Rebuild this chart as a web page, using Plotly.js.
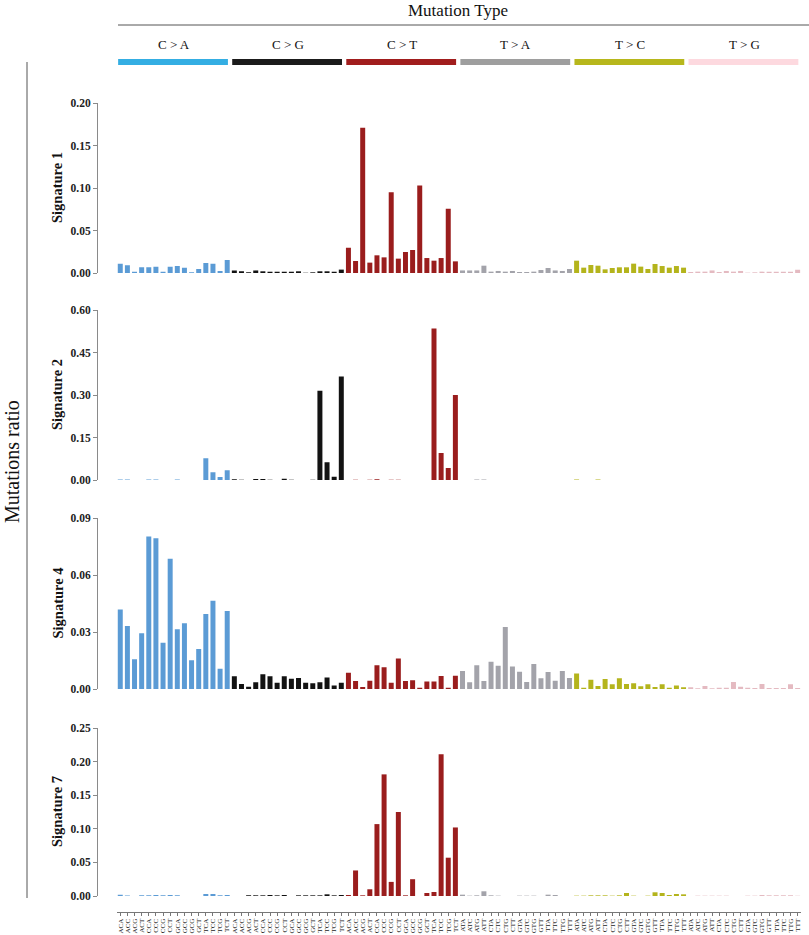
<!DOCTYPE html>
<html>
<head>
<meta charset="utf-8">
<script src="https://cdn.plot.ly/plotly-3.0.1.min.js"></script>
<style>html,body{margin:0;padding:0;background:#fff;}#chart{width:809px;height:935px;}</style>
</head>
<body>
<div id="chart"></div>
<script>
// ---- data ----
var mutationTypes = ['C>A', 'C>G', 'C>T', 'T>A', 'T>C', 'T>G'];
var typeLabels = ['C > A', 'C > G', 'C > T', 'T > A', 'T > C', 'T > G'];
var cContexts = ['ACA','ACC','ACG','ACT','CCA','CCC','CCG','CCT','GCA','GCC','GCG','GCT','TCA','TCC','TCG','TCT'];
var tContexts = ['ATA','ATC','ATG','ATT','CTA','CTC','CTG','CTT','GTA','GTC','GTG','GTT','TTA','TTC','TTG','TTT'];
var signatureNames = ['Signature 1', 'Signature 2', 'Signature 4', 'Signature 7'];
var signatureMax = [0.20, 0.60, 0.09, 0.25];
var signatureTicks = [
  [0, 0.05, 0.10, 0.15, 0.20],
  [0, 0.15, 0.30, 0.45, 0.60],
  [0, 0.03, 0.06, 0.09],
  [0, 0.05, 0.10, 0.15, 0.20, 0.25]
];

var sig1 = [
  0.011, 0.009, 0.0016, 0.0067, 0.0067, 0.0075, 0.0016, 0.0075, 0.0082, 0.0063, 0.0008, 0.0047, 0.0118, 0.011, 0.0024, 0.0153,
  0.003, 0.002, 0.001, 0.003, 0.002, 0.0015, 0.0015, 0.0015, 0.0015, 0.002, 0.0003, 0.0008, 0.002, 0.002, 0.0015, 0.004,
  0.0298, 0.0141, 0.171, 0.0122, 0.0208, 0.0184, 0.095, 0.0169, 0.0247, 0.027, 0.103, 0.0176, 0.0145, 0.0176, 0.0755, 0.0137,
  0.003, 0.003, 0.003, 0.0086, 0.0016, 0.0024, 0.0016, 0.0024, 0.0012, 0.0012, 0.0016, 0.0035, 0.0059, 0.003, 0.0024, 0.0047,
  0.0145, 0.0063, 0.0094, 0.0086, 0.0043, 0.0059, 0.0067, 0.0067, 0.011, 0.0075, 0.0047, 0.0106, 0.0082, 0.0063, 0.0082, 0.0063,
  0.0012, 0.0016, 0.0016, 0.003, 0.0012, 0.0024, 0.0016, 0.0024, 0.0004, 0.0008, 0.0016, 0.0016, 0.0016, 0.0016, 0.0016, 0.0039
];
var sig2 = [
  0.002, 0.002, 0, 0, 0.002, 0.002, 0, 0, 0.002, 0, 0, 0, 0.0765, 0.027, 0.0106, 0.034,
  0.0024, 0.0012, 0, 0.0035, 0.0035, 0.0012, 0, 0.0047, 0.0012, 0, 0, 0.0012, 0.315, 0.0623, 0.0118, 0.365,
  0, 0.0012, 0, 0.0012, 0.0024, 0, 0.0012, 0.0012, 0, 0, 0, 0, 0.535, 0.095, 0.042, 0.30,
  0, 0, 0.0015, 0.0015, 0, 0, 0, 0, 0, 0, 0, 0, 0, 0, 0, 0,
  0.002, 0, 0, 0.002, 0, 0, 0, 0, 0, 0, 0, 0, 0, 0, 0, 0,
  0, 0, 0, 0, 0, 0, 0, 0, 0, 0, 0, 0, 0, 0, 0, 0
];
var sig4 = [
  0.0419, 0.0332, 0.0156, 0.0293, 0.0802, 0.0793, 0.0244, 0.0686, 0.0314, 0.0346, 0.0151, 0.0210, 0.0395, 0.0465, 0.0107, 0.0410,
  0.0067, 0.0026, 0.0012, 0.0035, 0.0077, 0.0067, 0.0033, 0.0067, 0.0054, 0.0058, 0.0033, 0.0030, 0.0035, 0.0060, 0.0019, 0.0033,
  0.0086, 0.0042, 0.0011, 0.0044, 0.0125, 0.0114, 0.0033, 0.0160, 0.0042, 0.0046, 0.0007, 0.0039, 0.0039, 0.0068, 0.0007, 0.0070,
  0.0095, 0.0035, 0.0125, 0.0042, 0.0144, 0.0123, 0.0326, 0.0119, 0.0091, 0.0037, 0.0132, 0.0056, 0.0089, 0.0044, 0.0095, 0.0058,
  0.0081, 0.0007, 0.0049, 0.0016, 0.0053, 0.0025, 0.0056, 0.0026, 0.0030, 0.0014, 0.0025, 0.0011, 0.0025, 0.0007, 0.0018, 0.0009,
  0.0009, 0.0004, 0.0016, 0.0004, 0.0007, 0.0007, 0.0037, 0.0012, 0.0007, 0.0005, 0.0026, 0.0005, 0.0005, 0.0005, 0.0025, 0.0005
];
var sig7 = [
  0.002, 0.0008, 0, 0.001, 0.001, 0.0015, 0.001, 0.0015, 0.001, 0, 0, 0, 0.003, 0.003, 0.001, 0.0015,
  0, 0, 0.001, 0.001, 0.001, 0.0015, 0.001, 0.0015, 0, 0.001, 0.001, 0.001, 0.001, 0.0025, 0.001, 0.0015,
  0.0015, 0.038, 0.001, 0.010, 0.107, 0.181, 0.021, 0.125, 0.001, 0.025, 0, 0.0045, 0.006, 0.211, 0.057, 0.102,
  0.002, 0.0005, 0.001, 0.007, 0.001, 0.0005, 0, 0, 0.0005, 0.0005, 0.0005, 0, 0.002, 0.0015, 0, 0,
  0.0005, 0.0005, 0.001, 0.001, 0.001, 0.0005, 0.001, 0.0045, 0.0005, 0, 0.0005, 0.0055, 0.0045, 0.0015, 0.003, 0.0025,
  0, 0.0005, 0.0005, 0.0005, 0.0005, 0.0005, 0, 0, 0.0005, 0.0005, 0.0015, 0.001, 0.001, 0.001, 0.001, 0.0005
];
var signatureValues = [sig1, sig2, sig4, sig7];

// ---- styles ----
var barColors = ['#5b9bd5', '#121212', '#9a1d1d', '#a3a3aa', '#b4b41c', '#e4bac1'];
var headerColors = ['#34aee3', '#1b1b1b', '#a11d1d', '#9e9e9e', '#b7b71c', '#fdd9df'];
var W = 809, H = 935;
function py(p) { return 1 - p / H; }
function px(p) { return p / W; }
var panelPix = [[103, 273], [310, 480], [518, 689], [728, 896]];
var serif = 'Liberation Serif, Times New Roman, serif';

// x labels
var xLabels = [];
for (var m = 0; m < 6; m++) {
  var ctx = m < 3 ? cContexts : tContexts;
  for (var c = 0; c < 16; c++) xLabels.push(ctx[c]);
}
var xIdx = xLabels.map(function (_, i) { return i; });

var traces = [];
var layout = {
  width: W, height: H,
  margin: {l: 0, r: 0, t: 0, b: 0},
  paper_bgcolor: '#ffffff', plot_bgcolor: '#ffffff',
  showlegend: false,
  bargap: 0.3,
  font: {family: serif, color: '#222'},
  annotations: [], shapes: []
};

for (var s = 0; s < 4; s++) {
  var vals = signatureValues[s];
  var xa = 'x' + (s === 0 ? '' : s + 1);
  var ya = 'y' + (s === 0 ? '' : s + 1);
  for (var m = 0; m < 6; m++) {
    traces.push({
      type: 'bar',
      x: xIdx.slice(m * 16, m * 16 + 16),
      y: vals.slice(m * 16, m * 16 + 16),
      xaxis: xa, yaxis: ya,
      marker: {color: barColors[m], line: {width: 0}},
      hoverinfo: 'skip'
    });
  }
  var isLast = s === 3;
  var xaxisDef = {
    domain: [px(116.7), px(801.2)],
    range: [-0.5, 95.5],
    showgrid: false, zeroline: false, fixedrange: true,
    anchor: isLast ? 'free' : ya,
    showline: isLast, linecolor: '#777', linewidth: 1,
    ticks: isLast ? 'outside' : '', ticklen: 3, tickcolor: '#777',
    showticklabels: isLast,
    tickmode: 'array', tickvals: xIdx, ticktext: xLabels,
    tickangle: -90,
    tickfont: {family: serif, size: 7, color: '#222'}
  };
  if (isLast) xaxisDef.position = py(912);
  var yaxisDef = {
    domain: [py(panelPix[s][1]), py(panelPix[s][0])],
    range: [0, signatureMax[s]],
    anchor: 'free', position: px(97),
    showgrid: false, zeroline: false, fixedrange: true,
    showline: true, linecolor: '#8a8a8a', linewidth: 1,
    ticks: 'outside', ticklen: 4, tickcolor: '#8a8a8a',
    tickmode: 'array', tickvals: signatureTicks[s],
    ticktext: signatureTicks[s].map(function (v) { return v.toFixed(2); }),
    tickfont: {family: serif, size: 11.5, color: '#222', weight: 700}
  };
  layout['xaxis' + (s === 0 ? '' : s + 1)] = xaxisDef;
  layout['yaxis' + (s === 0 ? '' : s + 1)] = yaxisDef;

  layout.annotations.push({
    text: signatureNames[s], xref: 'paper', yref: 'paper',
    x: px(57), y: py((panelPix[s][0] + panelPix[s][1]) / 2),
    textangle: -90, showarrow: false, xanchor: 'center', yanchor: 'middle',
    font: {family: serif, size: 14.5, color: '#111', weight: 700}
  });
}

// left title and line
layout.annotations.push({
  text: 'Mutations ratio', xref: 'paper', yref: 'paper',
  x: px(12), y: py(462), textangle: -90, showarrow: false,
  xanchor: 'center', yanchor: 'middle',
  font: {family: serif, size: 20, color: '#111'}
});
layout.shapes.push({
  type: 'line', xref: 'paper', yref: 'paper',
  x0: px(27), x1: px(27), y0: py(62), y1: py(898),
  line: {color: '#555', width: 1}
});

// header
layout.annotations.push({
  text: 'Mutation Type', xref: 'paper', yref: 'paper',
  x: px(458), y: py(10), showarrow: false, xanchor: 'center', yanchor: 'middle',
  font: {family: serif, size: 17, color: '#111'}
});
layout.shapes.push({
  type: 'line', xref: 'paper', yref: 'paper',
  x0: px(118), x1: px(809), y0: py(25), y1: py(25),
  line: {color: '#555', width: 1}
});
for (var m = 0; m < 6; m++) {
  layout.annotations.push({
    text: typeLabels[m], xref: 'x', yref: 'paper',
    x: 16 * m + 7.5, y: py(45), showarrow: false, xanchor: 'center', yanchor: 'middle',
    font: {family: serif, size: 13, color: '#111'}
  });
  layout.shapes.push({
    type: 'rect', xref: 'x', yref: 'paper',
    x0: 16 * m - 0.3, x1: 16 * m + 15.1, y0: py(65), y1: py(59),
    fillcolor: headerColors[m], line: {width: 0}
  });
}

Plotly.newPlot('chart', traces, layout, {displayModeBar: false, staticPlot: true});
</script>
</body>
</html>
